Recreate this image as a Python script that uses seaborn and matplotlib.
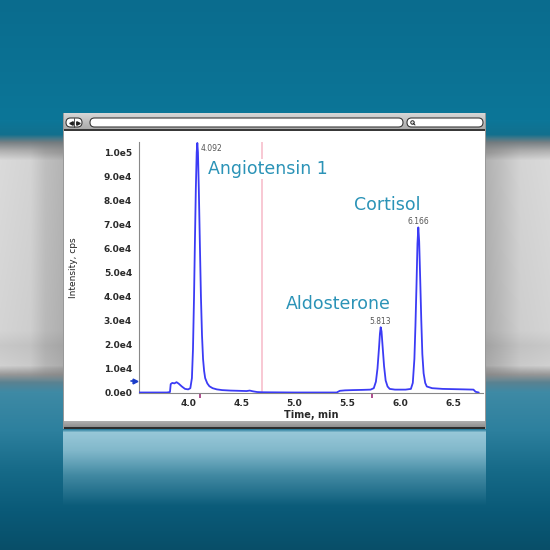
import numpy as np
import seaborn as sns
import matplotlib.pyplot as plt
from matplotlib.patches import FancyBboxPatch
from matplotlib.transforms import blended_transform_factory

# chromatogram trace (time in min, intensity in cps)
time = [3.536, 3.60, 3.70, 3.80, 3.828, 3.835, 3.85, 3.87, 3.89, 3.91, 3.94, 3.97,
        4.00, 4.02, 4.035, 4.045, 4.055, 4.063, 4.072, 4.080, 4.086, 4.092, 4.10,
        4.11, 4.12, 4.13, 4.14, 4.15, 4.16, 4.18, 4.20, 4.23, 4.27, 4.32, 4.40,
        4.48, 4.55, 4.58, 4.61, 4.65, 4.70, 5.00, 5.40, 5.43, 5.48, 5.55, 5.65,
        5.72, 5.75, 5.77, 5.785, 5.80, 5.808, 5.815, 5.823, 5.832, 5.847, 5.862,
        5.88, 5.90, 5.95, 6.05, 6.10, 6.118, 6.133, 6.143, 6.153, 6.162, 6.170,
        6.178, 6.188, 6.198, 6.208, 6.22, 6.235, 6.25, 6.30, 6.40, 6.50, 6.60,
        6.69, 6.71, 6.74]
intensity = [0, 0, 0, 0, 200, 3500, 4000, 3800, 4300, 3700, 2500, 1500,
             1300, 1800, 6000, 18000, 40000, 62000, 85000, 100000, 104000, 100000, 85000,
             62000, 40000, 24000, 14000, 9000, 6000, 3800, 2600, 1800, 1300, 1000, 800,
             700, 600, 800, 500, 200, 100, 0, 0, 700, 900, 1000, 1100,
             1200, 1800, 4500, 10000, 19000, 24500, 27200, 25500, 20000, 11000, 5000,
             2500, 1500, 1200, 1200, 1500, 4000, 14000, 28000, 45000, 62000, 68800,
             63000, 47000, 30000, 16000, 8000, 4000, 2500, 1800, 1500, 1400, 1300,
             1200, 300, 0]

peak_rt = ["4.092", "5.813", "6.166"]
peak_label_x = [4.218, 5.813, 6.166]
peak_label_y = [101600, 29400, 71100]

compounds = ["Angiotensin 1", "Aldosterone", "Cortisol"]
compound_x = [4.751, 5.416, 5.873]
compound_y = [93150, 36870, 78330]

yticks = [0, 10000, 20000, 30000, 40000, 50000, 60000, 70000, 80000, 90000, 100000]
ytick_labels = ["0.0e0", "1.0e4", "2.0e4", "3.0e4", "4.0e4", "5.0e4",
                "6.0e4", "7.0e4", "8.0e4", "9.0e4", "1.0e5"]
xticks = [4.0, 4.5, 5.0, 5.5, 6.0, 6.5]
xtick_labels = ["4.0", "4.5", "5.0", "5.5", "6.0", "6.5"]

marker_times = [4.113, 5.734]   # small magenta marks under the axis
window_time = 4.698             # pink vertical line
threshold = 5000                # blue arrow on the y axis

sns.set_style("white")
plt.rcParams['font.family'] = ['DejaVu Sans']

# ---------------- background picture (teal / gray blur + window frame) ----------------
H = W = 550
ys = np.arange(H)
xs = np.arange(W)

stops_y = [0, 120, 134, 142, 150, 160, 330, 345, 365, 374, 382, 392, 430, 470, 510, 550]
stops_c = np.array([(10, 108, 142), (12, 118, 152), (18, 112, 142), (120, 128, 132),
                    (170, 170, 170), (212, 212, 212), (206, 206, 206), (194, 194, 194),
                    (202, 202, 202), (150, 150, 150), (90, 130, 145), (62, 138, 165),
                    (45, 128, 158), (22, 106, 136), (10, 90, 120), (8, 78, 104)]) / 255
col = np.stack([np.interp(ys, stops_y, stops_c[:, k]) for k in range(3)], axis=1)
bg = np.repeat(col[:, None, :], W, axis=1)

band = np.interp(ys, [138, 152, 368, 380], [0, 1, 1, 0])
fx = np.interp(xs, [0, 30, 45, 63, 486, 500, 520, 550], [1.03, 1.0, 0.9, 0.85, 0.84, 0.9, 1.0, 1.03])
bg = bg * (1 - band[:, None, None] * (1 - fx[None, :, None]))
bg = np.clip(bg, 0, 1)

# reflection of the window
refl = np.interp(ys, [429, 432, 450, 475, 505], [0, 0.85, 0.7, 0.3, 0])
rc = np.array([170, 212, 226]) / 255
bg[:, 63:486, :] = bg[:, 63:486, :] * (1 - refl[:, None, None]) + rc * refl[:, None, None]

# window frame
tb = np.interp(np.arange(113, 130), [113, 129], [0.84, 0.66])
bg[113:130, 63:486, :] = tb[:, None, None]
bg[129:131, 63:486, :] = 0.22
bg[131:421, 63:486, :] = 1.0
bb = np.interp(np.arange(421, 428), [421, 427], [0.68, 0.55])
bg[421:428, 63:486, :] = bb[:, None, None]
bg[427:429, 63:486, :] = 0.18
bg[113:429, 63, :] = 0.6
bg[113:429, 485, :] = 0.6

fig = plt.figure(figsize=(5.5, 5.5), dpi=100)
bg_ax = fig.add_axes([0, 0, 1, 1])
bg_ax.imshow(bg, extent=[0, W, H, 0], interpolation='bilinear')
bg_ax.set_xlim(0, W)
bg_ax.set_ylim(H, 0)
bg_ax.axis('off')

# title bar controls
for (x0, w) in [(66, 16), (90, 313), (407, 76)]:
    bg_ax.add_patch(FancyBboxPatch((x0, 118), w, 9, boxstyle="round,pad=0,rounding_size=4.5",
                                   fc='white', ec='#3a3a3a', lw=0.8))
bg_ax.plot([74, 74], [118, 127], color='#3a3a3a', lw=0.6)
bg_ax.plot([70.5], [122.5], marker='<', ms=2.5, color='#222222')
bg_ax.plot([77.5], [122.5], marker='>', ms=2.5, color='#222222')
bg_ax.plot([412], [122], marker='o', ms=2.5, mfc='none', mec='#222222', mew=0.7)
bg_ax.plot([413, 415], [123, 125], color='#222222', lw=0.7)

# ---------------- chromatogram ----------------
ax = fig.add_axes([139 / 550, (550 - 392.5) / 550, (483 - 139) / 550, (392.5 - 142) / 550])
ax.set_facecolor('none')

ax.axvline(window_time, color='#f8c4d0', lw=1.3, zorder=1)
sns.lineplot(x=time, y=intensity, ax=ax, color='#3b3bf5', lw=1.3,
             sort=False, estimator=None, zorder=3)

ax.set_xlim(3.536, 6.78)
ax.set_ylim(0, 104400)

ax.set_xticks(xticks)
ax.set_xticklabels(xtick_labels)
ax.set_yticks(yticks)
ax.set_yticklabels(ytick_labels)
ax.set_xticks(np.arange(3.55, 6.78, 0.05), minor=True)
ax.set_yticks(np.arange(0, 104400, 2000), minor=True)
ax.tick_params(axis='both', which='major', length=3, width=0.8, color='#777777',
               labelsize=6.5, labelcolor='#2a2a2a', pad=2)
ax.tick_params(axis='both', which='minor', length=1.5, width=0.6, color='#999999')
for lab in ax.get_xticklabels() + ax.get_yticklabels():
    lab.set_fontweight('bold')

sns.despine(ax=ax)
for s in ['left', 'bottom']:
    ax.spines[s].set_color('#888888')
    ax.spines[s].set_linewidth(0.8)

ax.set_xlabel("Time, min", fontsize=7, fontweight='bold', color='#2a2a2a', labelpad=1)
fig.text(73.7 / 550, 1 - 268 / 550, "Intensity, cps", rotation=90, ha='center', va='center',
         fontsize=6.5, color='#222222', family=['Liberation Sans Narrow', 'DejaVu Sans'])

for lab, x, y in zip(peak_rt, peak_label_x, peak_label_y):
    ax.text(x, y, lab, fontsize=5.5, color='#555555', ha='center', va='center', zorder=4)

for name, x, y in zip(compounds, compound_x, compound_y):
    ax.text(x, y, name, fontsize=12.5, color='#2b93b7', ha='center', va='center', zorder=4,
            bbox=dict(fc='white', ec='none', pad=1))

trans = blended_transform_factory(ax.transData, ax.transAxes)
ax.scatter(marker_times, [-0.012] * len(marker_times), transform=trans, marker='|',
           s=12, color='#a0307a', lw=1.2, clip_on=False, zorder=5)
trans_y = blended_transform_factory(ax.transAxes, ax.transData)
ax.plot([-0.012], [threshold], transform=trans_y, marker='>', ms=3.5, color='#1a3cc8',
        clip_on=False, zorder=5)
ax.plot([-0.022, -0.012], [threshold, threshold], transform=trans_y, color='#1a3cc8',
        lw=1.2, clip_on=False, zorder=5)

fig.savefig('out.png', dpi=100)
